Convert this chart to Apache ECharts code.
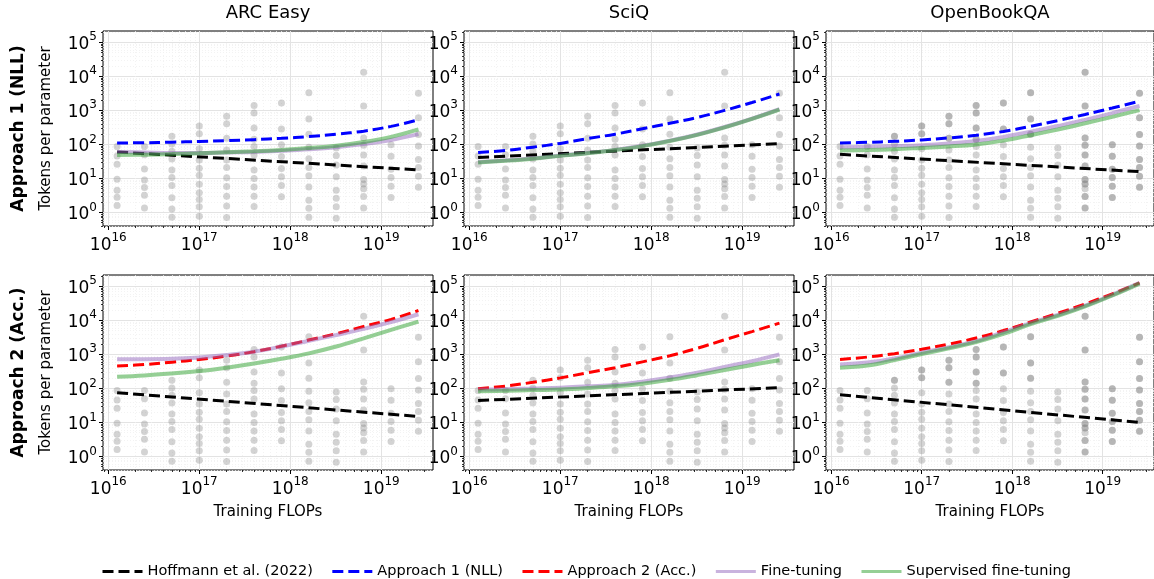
<!DOCTYPE html>
<html>
<head>
<meta charset="utf-8">
<script src="https://cdn.jsdelivr.net/npm/echarts@6/dist/echarts.min.js"></script>
<style>
  html, body { margin: 0; padding: 0; background: #ffffff; }
  #chart { width: 1154px; height: 579px; }
</style>
</head>
<body>
<div id="chart"></div>
<script>
// ---- data -------------------------------------------------------------
const datasets = ['ARC Easy', 'SciQ', 'OpenBookQA'];
const rowNames = ['Approach 1 (NLL)', 'Approach 2 (Acc.)'];
const seriesNames = ['Hoffmann et al. (2022)', 'Approach 1 (NLL)', 'Approach 2 (Acc.)', 'Fine-tuning', 'Supervised fine-tuning'];

// compute budgets of the training runs (FLOPs)
const flops = [1.25e16, 2.5e16, 5e16, 1e17, 2e17, 4e17, 8e17, 1.6e18, 3.2e18, 6.4e18, 1.28e19, 2.56e19];

// tokens per parameter of every trained model, one list per compute budget
const runs = [
  [87, 46, 26, 9.4, 4.5, 2.8, 1.6],
  [87, 50, 19, 9.0, 5.4, 3.2, 1.35],
  [174, 102, 63, 37, 17.6, 10.7, 6.2, 2.7, 1.26, 0.72],
  [347, 204, 74, 35, 20, 12.3, 6.8, 3.8, 2.4, 1.48, 0.78],
  [676, 407, 151, 69, 35, 21, 10.5, 5.8, 3.0, 1.55, 0.71],
  [1380, 832, 302, 141, 87, 49, 17.8, 10, 5.6, 3.0, 1.5],
  [1660, 282, 98, 44, 19.5, 11.2, 6.2, 2.9],
  [3310, 562, 200, 83, 38, 21, 12, 5.6, 2.3, 1.32, 0.72],
  [78, 47, 25, 11.2, 4.5, 2.6, 1.48, 0.68],
  [13200, 1350, 155, 95, 49, 23, 9.3, 6.9, 5.0, 2.95, 1.35],
  [98, 45, 18.6, 10.7, 5.9, 2.75],
  [3160, 603, 195, 89, 36, 21, 11.5, 5.5]
];
// OpenBookQA has repeated runs at these points
const obqaRepeats = [
  [], [], [174], [347, 204], [676, 407, 151], [1380, 832, 302, 141], [1660, 282], [3310, 562, 200], [],
  [13200, 1350, 155, 95, 49, 23, 9.3, 6.9, 2.95, 1.35],
  [98, 45, 18.6, 10.7, 5.9, 2.75],
  [3160, 603, 195, 89, 36, 21, 11.5, 5.5]
];

// optimal tokens per parameter vs. compute (Hoffmann: start/end of the power law)
const arcHoffmannNll  = [60, 17.8];
const arcApproachNll  = [110, 112, 116, 122, 129, 138, 151, 170, 200, 245, 339, 525];
const arcFtNll        = [60, 58, 56, 56, 58, 60, 65, 72, 83, 102, 135, 200];
const arcSftNll       = [49, 50, 52, 55, 59, 63, 69, 78, 91, 117, 166, 275];

const sciqHoffmannNll = [41.5, 105];
const sciqApproachNll = [58, 66, 83, 107, 148, 200, 288, 417, 617, 1000, 1700, 3020];
const sciqFtNll       = [30.5, 34, 39, 47, 56, 69, 91, 129, 195, 324, 575, 1090];
const sciqSftNll      = [29.5, 33, 38, 46, 55, 68, 89, 126, 191, 316, 562, 1050];

const obqaHoffmannNll = [51, 15.8];
const obqaApproachNll = [110, 115, 123, 135, 155, 186, 240, 339, 501, 759, 1175, 1860];
const obqaFtNll       = [83, 85, 89, 95, 107, 126, 166, 234, 347, 525, 832, 1350];
const obqaSftNll      = [66, 68, 72, 79, 87, 100, 129, 186, 275, 417, 646, 1020];

const arcHoffmannAcc  = [75, 15];
const arcApproachAcc  = [457, 501, 589, 708, 891, 1200, 1740, 2630, 4070, 6610, 10700, 19500];
const arcFtAcc        = [724, 724, 741, 813, 955, 1200, 1700, 2510, 3720, 5620, 8910, 15100];
const arcSftAcc       = [219, 240, 275, 324, 407, 537, 741, 1070, 1700, 2950, 5250, 9120];

const sciqHoffmannAcc = [44, 105];
const sciqApproachAcc = [98, 117, 151, 204, 288, 407, 603, 912, 1510, 2690, 4680, 8320];
const sciqFtAcc       = [93, 95, 100, 105, 115, 126, 158, 209, 288, 427, 631, 1000];
const sciqSftAcc      = [83, 85, 89, 93, 102, 115, 138, 178, 245, 347, 490, 676];

const obqaHoffmannAcc = [65, 10];
const obqaApproachAcc = [708, 832, 1050, 1410, 2000, 3020, 5010, 8910, 16200, 30200, 60300, 126000];
const obqaFtAcc       = [501, 575, 759, 1120, 1620, 2450, 4470, 8320, 14500, 26900, 56200, 126000];
const obqaSftAcc      = [407, 468, 676, 1020, 1510, 2290, 3980, 7760, 13500, 25700, 53700, 120000];

const xTicks = [1e16, 1e17, 1e18, 1e19];
const yTicks = [1, 10, 100, 1e3, 1e4, 1e5];

// ---- layout -----------------------------------------------------------
const FONT = 'DejaVu Sans';
const panelLeft = [103, 464, 826];
const panelWidth = [330, 330, 328];
const rowTop = [31, 275];
const panelHeight = 195;
const X_MIN = 8.75e15, X_MAX = 3.7e19;
const Y_MIN = 0.40, Y_MAX = 2.15e5;

const COLORS = {
  hoffmann: '#000000',
  nll: '#0000ff',
  acc: '#ff0000',
  ft: '#9467bd',
  sft: '#2ca02c'
};

const panels = [
  { row: 0, col: 0, hoff: arcHoffmannNll,  appr: arcApproachNll,  ft: arcFtNll,  sft: arcSftNll,  acc: false },
  { row: 0, col: 1, hoff: sciqHoffmannNll, appr: sciqApproachNll, ft: sciqFtNll, sft: sciqSftNll, acc: false },
  { row: 0, col: 2, hoff: obqaHoffmannNll, appr: obqaApproachNll, ft: obqaFtNll, sft: obqaSftNll, acc: false, repeats: obqaRepeats },
  { row: 1, col: 0, hoff: arcHoffmannAcc,  appr: arcApproachAcc,  ft: arcFtAcc,  sft: arcSftAcc,  acc: true },
  { row: 1, col: 1, hoff: sciqHoffmannAcc, appr: sciqApproachAcc, ft: sciqFtAcc, sft: sciqSftAcc, acc: true },
  { row: 1, col: 2, hoff: obqaHoffmannAcc, appr: obqaApproachAcc, ft: obqaFtAcc, sft: obqaSftAcc, acc: true, repeats: obqaRepeats }
];

// minor tick positions (2..9 x each decade) inside an axis range
function minorTicks(lo, hi) {
  const out = [];
  for (let d = Math.floor(Math.log10(lo)); d <= Math.ceil(Math.log10(hi)); d++) {
    for (let m = 2; m <= 9; m++) {
      const v = m * Math.pow(10, d);
      if (v >= lo && v <= hi) out.push(v);
    }
  }
  return out;
}
const xMinor = minorTicks(X_MIN, X_MAX);
const yMinor = minorTicks(Y_MIN, Y_MAX);

const powRich = {
  b: { fontSize: 17, fontFamily: FONT, color: '#000', verticalAlign: 'bottom', lineHeight: 22 },
  e: { fontSize: 12, fontFamily: FONT, color: '#000', verticalAlign: 'top', lineHeight: 22 }
};
function powLabel(v) {
  const e = Math.round(Math.log10(v));
  return '{b|10}{e|' + e + '}';
}

const grids = [], xAxes = [], yAxes = [], series = [];

panels.forEach((p, g) => {
  grids.push({
    left: panelLeft[p.col], top: rowTop[p.row], width: panelWidth[p.col], height: panelHeight,
    show: true, borderColor: '#000', borderWidth: 1, backgroundColor: 'transparent'
  });
  // major axes (ticks, labels, grid)
  xAxes.push({
    type: 'log', gridIndex: g, min: X_MIN, max: X_MAX, position: 'bottom',
    axisLine: { show: false },
    axisTick: { show: true, length: 4, customValues: xTicks, lineStyle: { color: '#000', width: 1 } },
    axisLabel: { customValues: xTicks, formatter: powLabel, rich: powRich, margin: 6 },
    splitLine: { show: true, lineStyle: { color: '#e3e3e3', width: 1 } }
  });
  yAxes.push({
    type: 'log', gridIndex: g, min: Y_MIN, max: Y_MAX, position: 'left',
    axisLine: { show: false },
    axisTick: { show: true, length: 4, customValues: yTicks, lineStyle: { color: '#000', width: 1 } },
    axisLabel: { customValues: yTicks, formatter: powLabel, rich: powRich, margin: 6 },
    splitLine: { show: true, lineStyle: { color: '#e3e3e3', width: 1 } }
  });
  // minor ticks and faint dotted minor grid
  xAxes.push({
    type: 'log', gridIndex: g, min: X_MIN, max: X_MAX, position: 'bottom',
    axisLine: { show: false },
    axisTick: { show: true, length: 2, customValues: xMinor, lineStyle: { color: '#000', width: 0.8 } },
    axisLabel: { show: false },
    splitLine: { show: true, lineStyle: { color: '#f0f0f0', width: 0.8, type: [1, 2] } }
  });
  yAxes.push({
    type: 'log', gridIndex: g, min: Y_MIN, max: Y_MAX, position: 'left',
    axisLine: { show: false },
    axisTick: { show: true, length: 2, customValues: yMinor, lineStyle: { color: '#000', width: 0.8 } },
    axisLabel: { show: false },
    splitLine: { show: true, lineStyle: { color: '#f0f0f0', width: 0.8, type: [1, 2] } }
  });

  const ax = { xAxisIndex: 2 * g, yAxisIndex: 2 * g };

  // grey training runs
  const pts = [];
  runs.forEach((col, i) => col.forEach(v => pts.push([flops[i], v])));
  series.push(Object.assign({
    type: 'scatter', name: 'runs', data: pts, symbolSize: 7, silent: true, z: 1,
    itemStyle: { color: '#808080', opacity: 0.35 }
  }, ax));
  if (p.repeats) {
    const rep = [];
    p.repeats.forEach((col, i) => col.forEach(v => rep.push([flops[i], v])));
    series.push(Object.assign({
      type: 'scatter', name: 'runs', data: rep, symbolSize: 7, silent: true, z: 1,
      itemStyle: { color: '#808080', opacity: 0.35 }
    }, ax));
  }

  function curve(name, ys, color, dashed, width, opacity) {
    const data = ys.length === 2
      ? [[flops[0], ys[0]], [flops[flops.length - 1], ys[1]]]
      : ys.map((v, i) => [flops[i], v]);
    return Object.assign({
      type: 'line', name, data, symbol: 'none', silent: true, z: 3,
      smooth: ys.length > 2 ? 0.4 : false,
      lineStyle: { color, width, opacity, type: dashed ? [11, 5] : 'solid', cap: 'butt' },
      itemStyle: { color, opacity }
    }, ax);
  }
  series.push(curve(seriesNames[0], p.hoff, COLORS.hoffmann, true, 3, 1));
  if (p.acc) series.push(curve(seriesNames[2], p.appr, COLORS.acc, true, 3, 1));
  else series.push(curve(seriesNames[1], p.appr, COLORS.nll, true, 3, 1));
  series.push(curve(seriesNames[3], p.ft, COLORS.ft, false, 4, 0.5));
  series.push(curve(seriesNames[4], p.sft, COLORS.sft, false, 4, 0.5));
});

// text: panel titles, row labels, axis titles
const graphics = [];
datasets.forEach((d, i) => {
  graphics.push({ type: 'text', x: panelLeft[i] + panelWidth[i] / 2, y: 13,
    style: { text: d, font: '18px "' + FONT + '"', fill: '#000', align: 'center', verticalAlign: 'middle' } });
  graphics.push({ type: 'text', x: panelLeft[i] + panelWidth[i] / 2, y: 512,
    style: { text: 'Training FLOPs', font: '15px "' + FONT + '"', fill: '#000', align: 'center', verticalAlign: 'middle' } });
});
rowNames.forEach((r, i) => {
  const cy = rowTop[i] + panelHeight / 2;
  graphics.push({ type: 'text', x: 19, y: cy, rotation: Math.PI / 2,
    style: { text: r, font: 'bold 17px "' + FONT + '"', fill: '#000', align: 'center', verticalAlign: 'middle' } });
  graphics.push({ type: 'text', x: 46, y: cy, rotation: Math.PI / 2,
    style: { text: 'Tokens per parameter', font: '15px "' + FONT + '"', fill: '#000', align: 'center', verticalAlign: 'middle' } });
});

const chart = echarts.init(document.getElementById('chart'), null, { renderer: 'canvas' });
chart.setOption({
  animation: false,
  backgroundColor: '#ffffff',
  textStyle: { fontFamily: FONT },
  grid: grids,
  xAxis: xAxes,
  yAxis: yAxes,
  legend: {
    data: seriesNames,
    left: 96, top: 559,
    itemWidth: 40, itemHeight: 14, itemGap: 18,
    itemStyle: { opacity: 0 },
    lineStyle: { width: 3 },
    textStyle: { fontSize: 14.5, fontFamily: FONT, color: '#000' },
    selectedMode: false
  },
  graphic: graphics,
  series: series
});
</script>
</body>
</html>
